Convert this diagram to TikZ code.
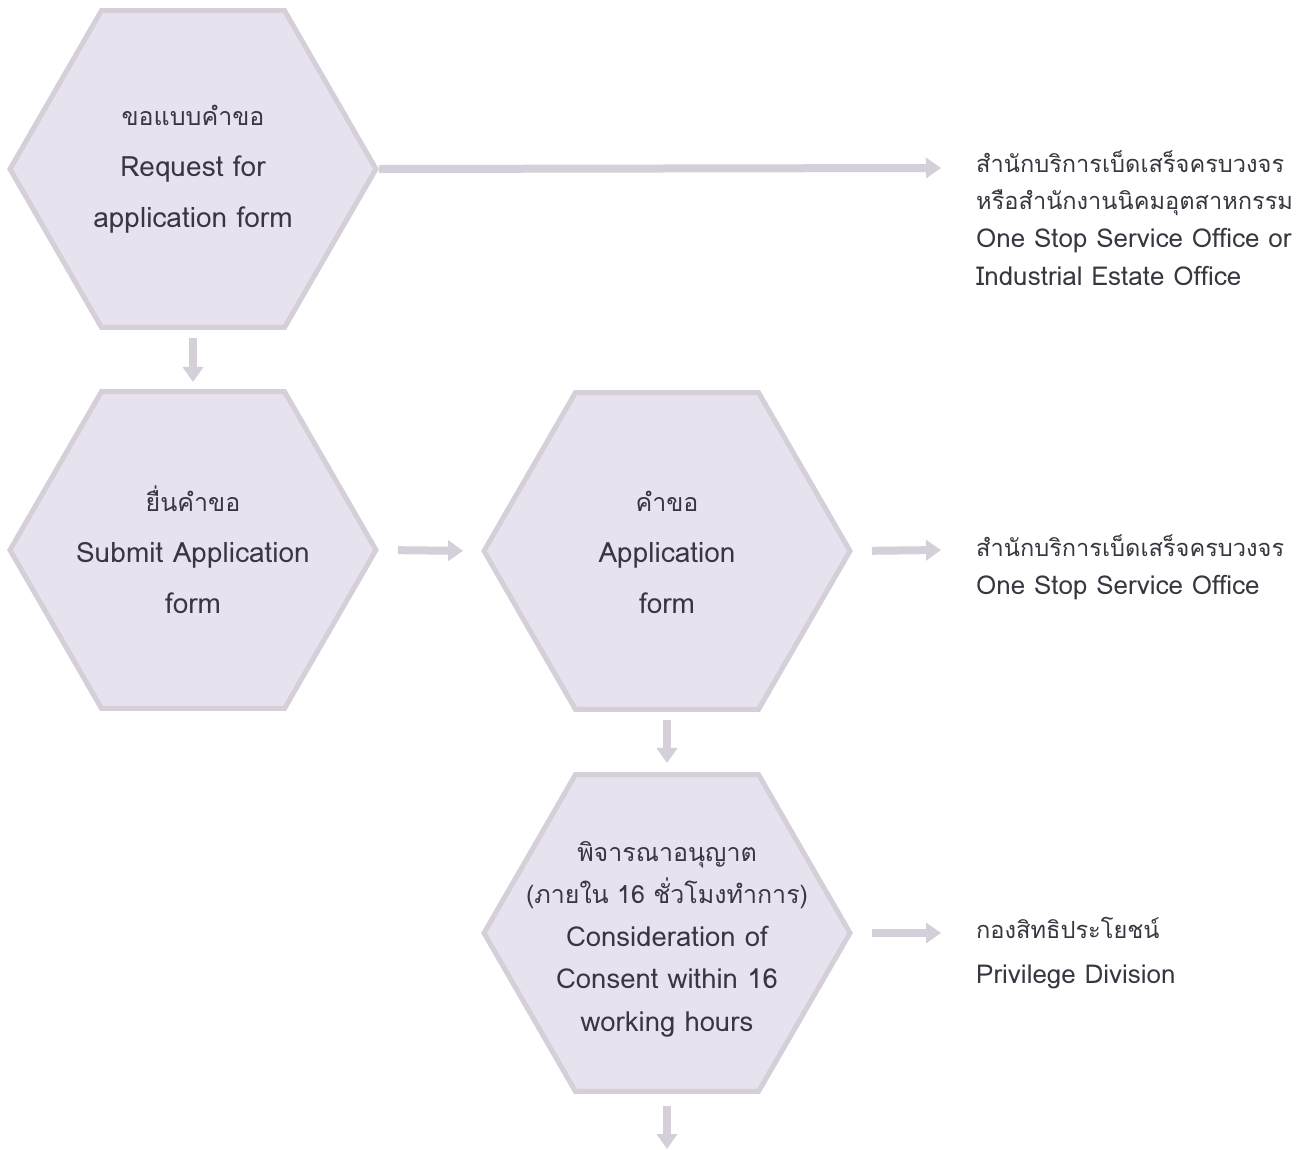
\documentclass[tikz,border=0pt]{standalone}
\usepackage{fontspec}
\setmainfont[Script=Thai]{Loma}
\usetikzlibrary{shapes.geometric,arrows.meta}
\definecolor{hexfill}{HTML}{E8E2EE}
\definecolor{hexline}{HTML}{D5CFDA}
\definecolor{txt}{HTML}{3A3641}
\newcommand\hexth{\fontsize{25}{51}\selectfont}
\newcommand\hexen{\fontsize{28}{51}\selectfont}
\newcommand\hexthS{\fontsize{25}{42.5}\selectfont}
\newcommand\hexenS{\fontsize{27.5}{42.5}\selectfont}
\newcommand\sideth{\fontsize{23.6}{37.7}\selectfont}
\newcommand\sideen{\fontsize{26}{37.7}\selectfont}
\newcommand\sidethW{\fontsize{23.6}{45}\selectfont}
\newcommand\sideenW{\fontsize{26}{45}\selectfont}
\tikzset{
  hexbox/.style={regular polygon, regular polygon sides=6, minimum size=366pt,
    inner sep=0pt, fill=hexfill, draw=hexline, line width=5pt},
  hextext/.style={align=center, text=txt, inner sep=0pt, font=\hexth},
  hextextsmall/.style={align=center, text=txt, inner sep=0pt, font=\hexthS},
  sidetext/.style={align=left, anchor=west, text=txt, inner sep=0pt, font=\sideth},
  flow/.style={draw=hexline, line width=8pt, -{Triangle[width=20pt,length=15pt]}}
}
\begin{document}
\begin{tikzpicture}[x=1pt,y=-1pt]
\useasboundingbox[fill=white] (0,0) rectangle (1309,1149);
\node[hexbox] (h1) at (193,169) {};
\node[hexbox] (h2) at (193,550) {};
\node[hexbox] (h3) at (667,551) {};
\node[hexbox] (h4) at (667,933) {};
\node[hextext] (t1) at (h1) {{\hexth ขอแบบคำขอ}\\{\hexen Request for}\\{\hexen application form}};
\node[hextext] (t2) at (h2) {{\hexth ยื่นคำขอ}\\{\hexen Submit Application}\\{\hexen form}};
\node[hextext] (t3) at (667,552) {{\hexth คำขอ}\\{\hexen Application}\\{\hexen form}};
\node[hextextsmall] (t4) at (667,939) {{\hexthS พิจารณาอนุญาต}\\{\hexthS (ภายใน 16 ชั่วโมงทำการ)}\\{\hexenS Consideration of}\\{\hexenS Consent within 16}\\{\hexenS working hours}};
\node[sidetext] (l1) at (976,218) {{\sideth สำนักบริการเบ็ดเสร็จครบวงจร}\\{\sideth หรือสำนักงานนิคมอุตสาหกรรม}\\{\sideen One Stop Service Office or}\\{\sideen Industrial Estate Office}};
\node[sidetext] (l2) at (976,567) {{\sideth สำนักบริการเบ็ดเสร็จครบวงจร}\\{\sideen One Stop Service Office}};
\node[sidetext, font=\sidethW] (l3) at (976,953) {{\sidethW กองสิทธิประโยชน์}\\{\sideenW Privilege Division}};
\coordinate (e1) at (941,168);
\coordinate (e3) at (941,550);
\coordinate (e4) at (941,933);
\coordinate (e5) at (667,1149);
\draw[flow] (h1.east) -- (e1);
\draw[flow, shorten <=8pt, shorten >=7pt] (h1.south) -- (h2.north);
\draw[flow, shorten <=19pt, shorten >=18pt] (h2.east) -- (h3.west);
\draw[flow, shorten <=19pt] (h3.east) -- (e3);
\draw[flow, shorten <=8pt, shorten >=9pt] (h3.south) -- (h4.north);
\draw[flow, shorten <=19pt] (h4.east) -- (e4);
\draw[flow, shorten <=12pt] (h4.south) -- (e5);
\end{tikzpicture}
\end{document}
